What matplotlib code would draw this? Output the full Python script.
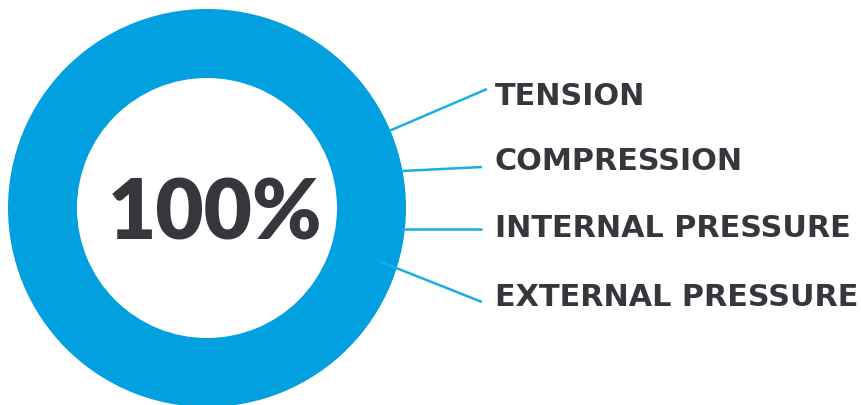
import matplotlib
matplotlib.use("Agg")
import matplotlib.pyplot as plt

# data
share = [100]
center_label = "100%"
labels = ["TENSION", "COMPRESSION", "INTERNAL PRESSURE", "EXTERNAL PRESSURE"]

RING = "#02A0DE"
LINE = "#1AADE6"
TEXT = "#36373C"

W, H = 861, 405
fig = plt.figure(figsize=(W / 100, H / 100), dpi=100)
ax = fig.add_axes([0, 0, 1, 1])

cx, cy, r_out, r_in = 207, 208, 199, 130
ax.pie(share, radius=r_out, center=(cx, cy), colors=[RING], startangle=90,
       wedgeprops=dict(width=r_out - r_in, linewidth=0), frame=True)
ax.set_xlim(0, W)
ax.set_ylim(H, 0)
ax.set_aspect("equal")
ax.axis("off")

ax.text(cx + 8, 240, center_label, ha="center", va="baseline",
        fontsize=60, fontweight="heavy", family="Lato", color=TEXT)

# leader lines: (start on ring) -> (end near label), label baseline
leaders = [((389, 131), (487, 89), 105),
           ((402, 171), (482, 167), 170),
           ((401, 229), (482, 229), 237),
           ((381, 262), (482, 302), 306)]
for lab, (p0, p1, ty) in zip(labels, leaders):
  ax.plot([p0[0], p1[0]], [p0[1], p1[1]], color=LINE, linewidth=1.8,
          solid_capstyle="butt")
  ax.text(495, ty, lab, ha="left", va="baseline", fontsize=21.8,
          fontweight="bold", family="DejaVu Sans", color=TEXT)

fig.savefig("out.png", dpi=100, facecolor="white")
